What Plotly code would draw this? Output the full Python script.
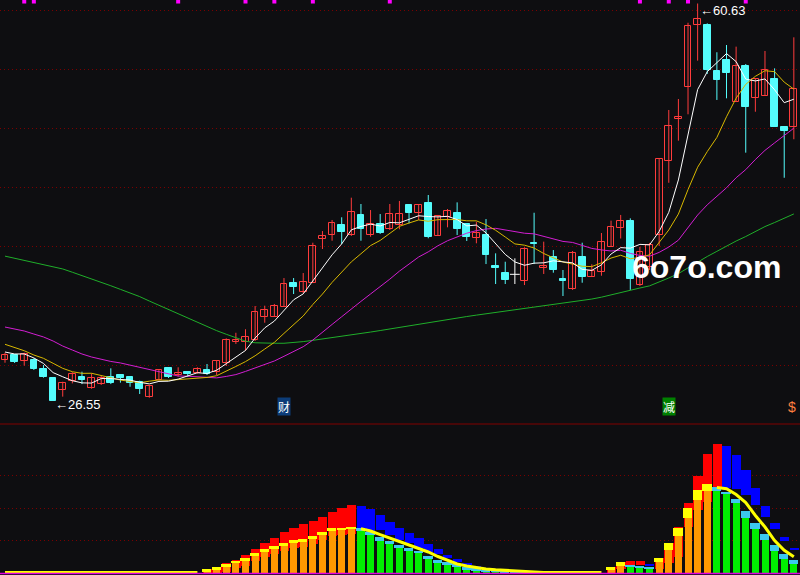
import plotly.graph_objects as go

# ---------------- price data (83 trading days) ----------------
opens = [30.06, 30.49, 30.00, 30.06, 29.29, 28.49, 27.49, 28.26, 28.58, 27.64,
         27.98, 28.63, 28.78, 28.58, 28.20, 26.87, 28.35, 29.35, 28.78, 29.01,
         28.97, 29.21, 29.03, 29.78, 31.61, 31.58, 31.78, 33.72, 33.78, 34.63,
         36.67, 35.87, 36.69, 40.41, 40.76, 41.64, 40.76, 42.50, 40.76, 41.70,
         41.27, 41.64, 43.35, 42.64, 43.50, 40.72, 42.30, 42.69, 41.70, 40.55,
         40.78, 38.12, 37.50, 37.41, 36.86, 40.12, 37.93, 38.92, 36.98, 36.15,
         38.87, 37.21, 37.63, 39.78, 41.41, 41.98, 36.49, 38.06, 40.78, 47.15,
         50.70, 53.45, 58.79, 58.79, 54.84, 55.79, 52.21, 55.27, 52.55, 52.72,
         54.16, 50.07, 50.02]
closes = [30.49, 29.89, 30.55, 29.29, 28.63, 26.55, 28.12, 28.86, 28.35, 28.55,
          28.49, 28.12, 28.49, 28.06, 27.58, 27.83, 29.18, 28.58, 28.97, 28.86,
          29.27, 28.86, 29.98, 31.78, 31.78, 32.01, 34.18, 34.35, 34.69, 36.55,
          36.35, 36.73, 39.84, 40.70, 41.78, 41.06, 42.73, 41.30, 41.70, 40.98,
          42.56, 42.58, 42.69, 43.35, 40.63, 42.41, 42.84, 41.30, 40.63, 40.98,
          39.07, 37.98, 36.92, 37.41, 39.55, 39.98, 38.12, 37.78, 36.86, 39.21,
          37.21, 37.69, 40.14, 41.51, 41.94, 36.98, 39.32, 39.92, 47.27, 50.13,
          50.87, 58.70, 59.28, 54.93, 54.07, 54.70, 55.27, 51.78, 54.13, 54.93,
          50.07, 49.72, 53.27]
highs = [30.69, 30.58, 30.69, 30.21, 29.63, 28.52, 28.20, 29.01, 29.06, 28.92,
         28.69, 29.35, 28.78, 28.63, 28.29, 27.92, 29.27, 29.35, 29.44, 29.01,
         29.44, 29.72, 30.06, 31.92, 32.40, 32.70, 34.69, 34.72, 34.87, 37.09,
         37.09, 37.52, 40.12, 41.12, 42.07, 42.30, 43.98, 43.44, 42.92, 42.58,
         43.44, 43.70, 43.35, 43.35, 44.21, 42.50, 43.01, 43.58, 41.78, 41.92,
         42.15, 39.21, 38.49, 38.78, 39.73, 42.69, 40.21, 39.49, 37.78, 39.41,
         40.12, 38.27, 40.95, 42.01, 42.50, 42.21, 39.75, 40.10, 47.36, 51.50,
         52.44, 58.98, 60.63, 58.93, 56.45, 57.07, 56.93, 55.44, 54.22, 56.56,
         55.07, 50.07, 57.73]
lows = [29.83, 29.81, 29.58, 29.21, 28.55, 26.55, 26.92, 28.06, 28.00, 27.60,
        27.92, 28.00, 28.12, 27.77, 27.15, 26.83, 28.29, 28.52, 28.63, 28.63,
        28.89, 28.78, 28.78, 29.55, 31.44, 30.86, 31.69, 33.26, 33.75, 34.61,
        35.72, 35.81, 36.67, 39.58, 40.29, 40.01, 40.70, 40.29, 40.63, 40.87,
        41.21, 41.27, 41.78, 42.07, 40.50, 40.70, 41.44, 40.78, 40.27, 40.07,
        38.29, 36.58, 36.58, 36.58, 36.49, 38.29, 37.44, 37.55, 35.55, 36.07,
        36.69, 37.18, 37.29, 39.75, 40.48, 36.07, 36.41, 37.78, 39.84, 45.26,
        48.87, 51.13, 55.73, 54.59, 52.36, 52.50, 52.18, 47.84, 51.35, 52.70,
        50.04, 45.69, 48.99]

# moving-average values read off the chart where history is not visible
ma5_head = [30.75, 30.58, 30.58, 30.24]
ma10_head = [31.41, 31.15, 30.86, 30.49, 30.21, 29.78, 29.35, 29.06, 28.92]
ma20_head = [32.89, 32.72, 32.55, 32.29, 32.04, 31.69, 31.26, 30.92, 30.58, 30.32,
             30.11, 29.94, 29.81, 29.63, 29.46, 29.25, 29.04, 28.86, 28.69]
ma60_head = [38.97, 38.79, 38.62, 38.44, 38.26, 38.08, 37.87, 37.59, 37.31, 37.03,
             36.73, 36.43, 36.12, 35.81, 35.50, 35.12, 34.75, 34.38, 33.99, 33.64,
             33.29, 32.94, 32.58, 32.27, 31.98, 31.68, 31.54, 31.50, 31.50, 31.50,
             31.54, 31.64, 31.75, 31.86, 31.97, 32.08, 32.19, 32.32, 32.46, 32.59,
             32.73, 32.87, 33.00, 33.14, 33.28, 33.42, 33.56, 33.69, 33.79, 33.91,
             34.02, 34.14, 34.25, 34.36, 34.48, 34.59, 34.70, 34.81, 34.93]

signal_idx = [2, 3, 18, 25, 28, 32, 40, 66, 69, 71, 77]
low_label, high_label = "26.55", "60.63"
low_idx, high_idx = 5, 72

# ---------------- indicator panel data ----------------
a_top = [0]*21 + [1.38, 1.99, 3.07, 4.14, 5.67, 7.52, 9.45, 10.89, 12.82, 14.05,
                  15.28, 16.10, 17.33, 18.87, 20.09, 21.01,
                  20.71, 19.69, 17.94, 15.80, 14.05, 12.33, 10.80, 8.96, 7.52, 5.67,
                  4.45, 3.31, 2.30, 1.38, 1.23, 0.77, 0.77, 0.60, 0.50,
                  0, 0, 0, 0, 0, 0, 0,
                  2.00, 3.60, 3.83, 3.83, 2.82, 4.75, 9.26, 14.20, 21.72, 29.91,
                  36.66, 39.72, 39.11, 36.35, 31.75, 26.13, 20.71, 15.40, 11.29, 7.52]
a_bot = [0]*21 + [0, 0, 0.40, 1.60, 2.40, 3.90, 5.20, 6.00, 7.00, 7.80,
                  8.20, 9.10, 10.30, 11.50, 11.80, 12.00,
                  13.96, 12.82, 13.34, 11.81, 10.28, 9.26, 7.73, 6.69, 5.98, 4.66,
                  3.62, 2.61, 1.90, 1.07, 0.92, 0.50, 0.50, 0.40, 0.35,
                  0, 0, 0, 0, 0, 0, 0,
                  0.30, 1.50, 2.61, 2.61, 2.30, 1.50, 3.13, 5.15, 14.36, 19.48,
                  22.00, 26.63, 26.13, 25.83, 24.08, 21.01, 17.42, 13.65, 9.97, 7.21]
b_val = [0]*21 + [0.61, 1.07, 1.90, 3.13, 3.93, 5.37, 6.69, 7.52, 8.53, 9.26,
                  9.75, 10.58, 11.81, 13.04, 13.34, 13.56,
                  13.04, 11.81, 10.06, 9.05, 7.73, 6.90, 6.20, 4.45, 3.13, 2.70,
                  1.90, 1.29, 0.86, 0.55, 0.46, 0.31, 0.30, 0.25, 0.20,
                  0, 0, 0, 0, 0, 0, 0,
                  1.07, 2.30, 2.09, 1.90, 1.60, 3.53, 7.21, 11.50, 17.02, 22.55,
                  25.40, 25.30, 24.29, 21.72, 17.12, 13.56, 10.28, 6.99, 4.45, 2.91]
cap_top = [0]*21 + [1.23, 1.90, 2.91, 3.83, 4.66, 6.38, 7.61, 8.44, 9.45, 10.28,
                    10.67, 11.50, 12.82, 13.87, 14.05, 14.36,
                    13.87, 12.82, 11.10, 9.97, 8.74, 7.73, 6.99, 5.37, 4.14, 3.44,
                    2.82, 1.90, 1.60, 1.07, 0.86, 0.61, 0.55, 0.50, 0.45,
                    0, 0, 0, 0, 0, 0, 0,
                    2.09, 3.53, 2.61, 2.39, 2.09, 4.75, 9.26, 13.96, 20.18, 25.61,
                    27.45, 26.50, 25.09, 22.85, 19.17, 15.40, 12.12, 8.74, 5.98, 4.14]
trend_line = ([0.3]*21 + [None]*16 +
              [13.71, 13.04, 11.90, 10.74, 9.82, 8.74, 7.67, 6.60, 5.21, 4.02,
               2.91, 2.30, 1.78, 1.38, 1.13, 0.92, 0.77, 0.61, 0.46,
               0.3, 0.3, 0.3, 0.3, 0.3, 0.3, 0.3] +
              [None]*11 +
              [26.38, 26.01, 24.23, 21.78, 17.79, 14.26, 10.12, 7.12, 5.12])

# ---------------- styling ----------------
BG = "#0e0e11"
RED = "#ff3c3c"
CYAN = "#54fcfc"
GRID = "#7a0000"

n = len(closes)
idx = list(range(n))


def moving_average(vals, w, head):
    out = []
    for i in range(len(vals)):
        if i < w - 1:
            out.append(head[i])
        else:
            out.append(sum(vals[i - w + 1:i + 1]) / w)
    return out


ma5 = moving_average(closes, 5, ma5_head)
ma10 = moving_average(closes, 10, ma10_head)
ma20 = moving_average(closes, 20, ma20_head)
ma60 = moving_average(closes, 60, ma60_head)

fig = go.Figure()

# wicks
for color, cond in ((RED, lambda o, c: c > o), (CYAN, lambda o, c: c < o), ("#ffffff", lambda o, c: c == o)):
    wx, wy = [], []
    for i in idx:
        if cond(opens[i], closes[i]):
            wx += [i, i, None]
            wy += [lows[i], highs[i], None]
    fig.add_trace(go.Scatter(x=wx, y=wy, mode="lines", line=dict(color=color, width=1),
                             hoverinfo="skip"))

# bodies
up = [i for i in idx if closes[i] > opens[i]]
dn = [i for i in idx if closes[i] < opens[i]]
eq = [i for i in idx if closes[i] == opens[i]]
fig.add_trace(go.Bar(x=up, y=[closes[i] - opens[i] for i in up], base=[opens[i] for i in up],
                     width=0.7, marker=dict(color=BG, line=dict(color=RED, width=1))))
fig.add_trace(go.Bar(x=dn, y=[opens[i] - closes[i] for i in dn], base=[closes[i] for i in dn],
                     width=0.7, marker=dict(color=CYAN, line=dict(color=CYAN, width=1))))
fig.add_trace(go.Scatter(x=eq, y=[closes[i] for i in eq], mode="markers",
                         marker=dict(symbol="line-ew", size=7, line=dict(color="#ffffff", width=1))))

# moving averages
for vals, col in ((ma60, "#1fae2a"), (ma20, "#d21ed2"), (ma10, "#d8b800"), (ma5, "#ffffff")):
    fig.add_trace(go.Scatter(x=idx, y=vals, mode="lines", line=dict(color=col, width=1)))

# signal markers on top edge
fig.add_trace(go.Scatter(x=signal_idx, y=[60.80] * len(signal_idx), mode="markers",
                         marker=dict(symbol="square", size=4, color="#ff00ff")))

# ---------------- indicator panel ----------------
a_col = ["#ff0000" if (i == 0 or a_top[i] >= a_top[i - 1]) else "#0000ff" for i in idx]
b_col = ["#ff9900" if (i > 0 and b_val[i] > b_val[i - 1]) else "#00ee00" for i in idx]
c_col = ["#ffff00" if c == "#ff9900" else "#3cc8f0" for c in b_col]

fig.add_trace(go.Bar(x=idx, y=[a_top[i] - a_bot[i] for i in idx], base=a_bot, yaxis="y2",
                     width=0.96, offset=-0.45, marker=dict(color=a_col, line=dict(width=0))))
fig.add_trace(go.Bar(x=idx, y=b_val, base=[0] * n, yaxis="y2",
                     width=0.73, offset=-0.36, marker=dict(color=b_col, line=dict(width=0))))
fig.add_trace(go.Bar(x=idx, y=[cap_top[i] - b_val[i] for i in idx], base=b_val, yaxis="y2",
                     width=0.97, offset=-0.53, marker=dict(color=c_col, line=dict(width=0))))
fig.add_trace(go.Scatter(x=idx, y=trend_line, yaxis="y2", mode="lines",
                         line=dict(color="#ffff00", width=3), connectgaps=False))

# ---------------- layout ----------------
main_grid = [60.07, 55.00, 49.92, 44.84, 39.77, 34.69, 29.62]
fig.update_layout(
    width=800, height=575, margin=dict(l=0, r=0, t=0, b=0),
    paper_bgcolor=BG, plot_bgcolor=BG, showlegend=False, barmode="overlay", bargap=0,
    xaxis=dict(range=[-0.52, 82.64], visible=False, fixedrange=True),
    yaxis=dict(domain=[0.2643, 1], range=[24.66, 60.93], tickvals=main_grid,
               showticklabels=False, showgrid=True, gridcolor=GRID, griddash="1px,3px",
               gridwidth=1, zeroline=False, ticks=""),
    yaxis2=dict(domain=[0, 0.2626], range=[-0.46, 45.86], tickvals=[10, 20, 30],
                showticklabels=False, showgrid=True, gridcolor=GRID, griddash="1px,3px",
                gridwidth=1, zeroline=False, ticks=""),
    shapes=[
        dict(type="line", xref="paper", yref="paper", x0=0, x1=1, y0=0.2626, y1=0.2626,
             line=dict(color="#800000", width=1)),
        dict(type="line", xref="paper", yref="y2", x0=0, x1=1, y0=0, y1=0,
             line=dict(color="#e000e0", width=1.5)),
    ],
    annotations=[
        dict(x=low_idx, y=26.29, xref="x", yref="y", text="←" + low_label, showarrow=False,
             xanchor="left", yanchor="middle", font=dict(family="Liberation Sans", size=13, color="#ffffff")),
        dict(x=high_idx, y=60.05, xref="x", yref="y", text="←" + high_label, showarrow=False,
             xanchor="left", yanchor="middle", font=dict(family="Liberation Sans", size=13, color="#ffffff")),
        dict(x=29, y=0.2757, xref="x", yref="paper", text="财", showarrow=False, bgcolor="#0c3c78",
             borderpad=0, font=dict(family="Noto Sans CJK SC", size=12, color="#ffffff")),
        dict(x=69, y=0.2757, xref="x", yref="paper", text="减", showarrow=False, bgcolor="#008000",
             borderpad=0, font=dict(family="Noto Sans CJK SC", size=12, color="#ffffff")),
        dict(x=81.8, y=0.2757, xref="x", yref="paper", text="$", showarrow=False,
             borderpad=0, font=dict(family="Liberation Sans", size=14, color="#ff8040")),
        dict(x=0.788, y=0.5357, xref="paper", yref="paper", text="<b>6o7o.com</b>", showarrow=False,
             xanchor="left", yanchor="middle",
             font=dict(family="Liberation Sans", size=32, color="#ffffff")),
    ],
)

fig.write_html("out.html", config={"displayModeBar": False},
               post_script="document.body.style.margin='0';document.body.style.padding='0';"
                           "document.body.style.background='" + BG + "';")
